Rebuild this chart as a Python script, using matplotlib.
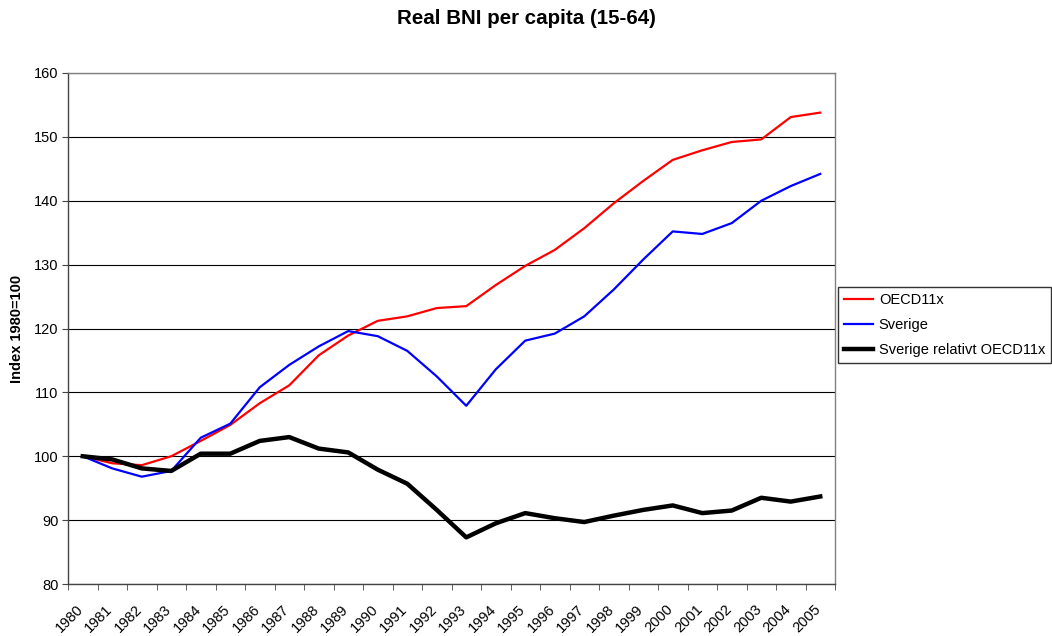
import matplotlib
matplotlib.use("Agg")
import matplotlib.pyplot as plt
import matplotlib.transforms as mtransforms
import numpy as np

years = [str(y) for y in range(1980, 2006)]
oecd = [100.0, 98.9, 98.6, 100.0, 102.4, 104.9, 108.3, 111.1, 115.8, 118.9, 121.2, 121.9, 123.2,
        123.5, 126.8, 129.8, 132.3, 135.7, 139.6, 143.1, 146.4, 147.9, 149.2, 149.6, 153.1, 153.8]
sverige = [100.0, 98.1, 96.8, 97.7, 102.9, 105.1, 110.8, 114.3, 117.2, 119.6, 118.8, 116.5, 112.5,
           107.9, 113.6, 118.1, 119.2, 121.9, 126.1, 130.8, 135.2, 134.8, 136.5, 140.0, 142.3, 144.2]
relativt = [100.0, 99.5, 98.1, 97.7, 100.4, 100.4, 102.4, 103.0, 101.2, 100.6, 97.9, 95.7, 91.6,
            87.3, 89.5, 91.1, 90.3, 89.7, 90.7, 91.6, 92.3, 91.1, 91.5, 93.5, 92.9, 93.7]
yticks = [80, 90, 100, 110, 120, 130, 140, 150, 160]

plt.rcParams['font.family'] = ['Liberation Sans', 'DejaVu Sans']

W, H = 1052, 636
fig = plt.figure(figsize=(W / 100, H / 100), dpi=100)
ax = fig.add_axes([68 / W, 1 - 584 / H, (835 - 68) / W, (584 - 73) / H])

x = np.arange(len(years))
ax.plot(x, oecd, color='#ff0000', lw=1.6, label='OECD11x')
ax.plot(x, sverige, color='#0000ff', lw=1.6, label='Sverige')
ax.plot(x, relativt, color='#000000', lw=3.2, label='Sverige relativt OECD11x')

ax.set_xlim(-0.5, len(years) - 0.5)
ax.set_ylim(80, 160)
ax.set_yticks(yticks)
ax.set_yticklabels([str(v) for v in yticks], fontsize=10.5)
ax.set_xticks(x)
ax.set_xticklabels(years, rotation=45, ha='right', rotation_mode='anchor', fontsize=10.5)
ax.set_xticks(np.arange(-0.5, len(years), 1.0), minor=True)
ax.tick_params(axis='x', which='major', length=0, pad=13)
ax.tick_params(axis='x', which='minor', length=4, color='#444444')
ax.tick_params(axis='y', length=4, color='#444444', pad=3)
offset = mtransforms.ScaledTranslation(-7 / 100, 0, fig.dpi_scale_trans)
for lab in ax.get_xticklabels():
    lab.set_transform(lab.get_transform() + offset)
ax.grid(axis='y', color='black', lw=0.8)
ax.set_axisbelow(True)
for s in ax.spines.values():
    s.set_color('#808080')
    s.set_linewidth(1.0)
ax.spines['left'].set_color('#444444')
ax.spines['bottom'].set_color('#444444')

ax.set_ylabel('Index 1980=100', fontsize=10.5, fontweight='bold', labelpad=7)
fig.text(0.5, 1 - 19 / H, 'Real BNI per capita (15-64)', ha='center', va='center',
         fontsize=14.8, fontweight='bold')

leg = fig.legend(loc='center left', bbox_to_anchor=(838 / W, 1 - 325 / H), fontsize=10.5,
                 frameon=True, fancybox=False, edgecolor='black', handlelength=2.0,
                 borderpad=0.4, labelspacing=0.75, handletextpad=0.4, borderaxespad=0)
leg.get_frame().set_linewidth(1.0)

fig.savefig('out.png', dpi=100)
